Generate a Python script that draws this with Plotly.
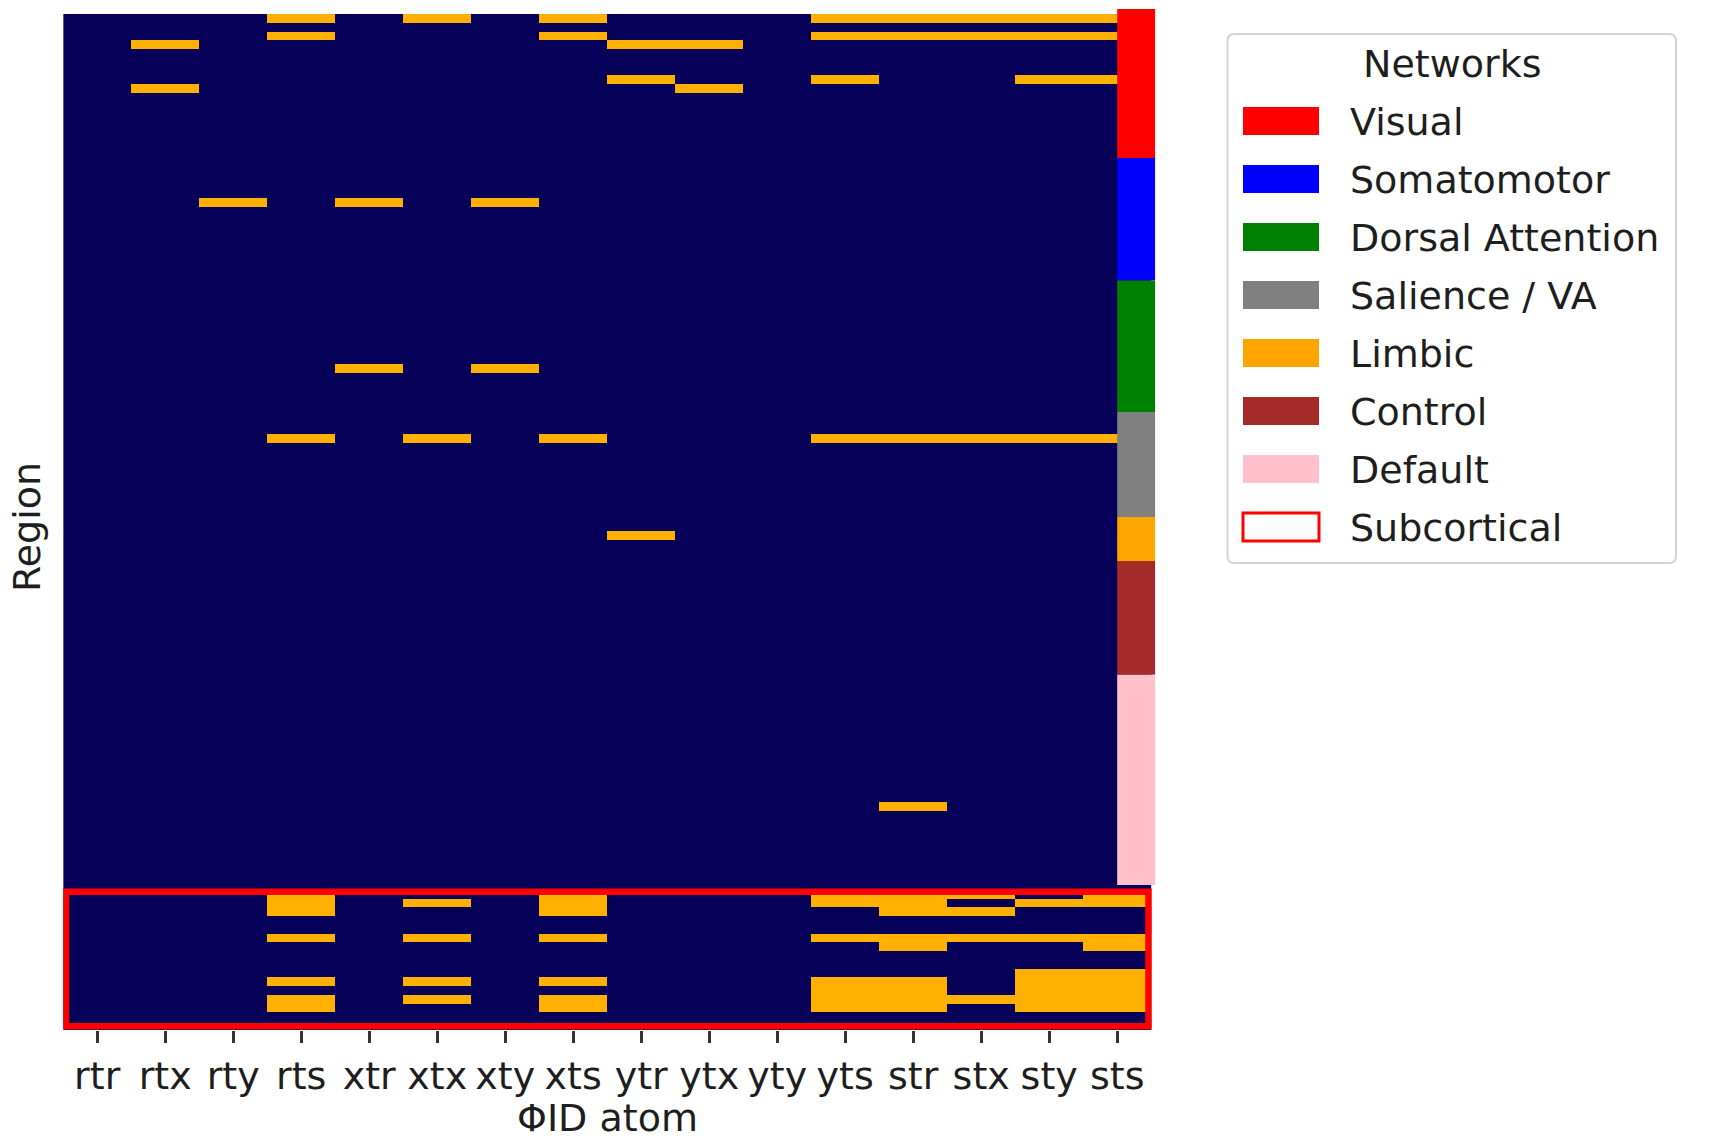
import numpy as np
import plotly.graph_objects as go

# ---------------------------------------------------------------- data
atoms = ["rtr", "rtx", "rty", "rts", "xtr", "xtx", "xty", "xts",
         "ytr", "ytx", "yty", "yts", "str", "stx", "sty", "sts"]

networks = ["Visual", "Somatomotor", "Dorsal Attention", "Salience / VA",
            "Limbic", "Control", "Default"]
network_sizes = [17, 14, 15, 12, 5, 13, 24]
network_colors = ["#FF0000", "#0000FF", "#008000", "#808080",
                  "#FFA500", "#A52A2A", "#FFC0CB"]
subcortical_label = "Subcortical"
n_subcortical = 16

# regions (row index: 100 cortical parcels, then subcortical) with a
# significant effect, and the ΦID atoms where it is significant
hit_rows = [0, 2, 3, 7, 8, 21, 40, 48, 59, 90,
            100, 101, 102, 105, 106, 109, 110, 111, 112, 113]
hit_atoms = [
    "rts xtx xts yts str stx sty sts",
    "rts xts yts str stx sty sts",
    "rtx ytr ytx",
    "ytr yts sty sts",
    "rtx ytx",
    "rty xtr xty",
    "xtr xty",
    "rts xtx xts yts str stx sty sts",
    "ytr",
    "str",
    "rts xts yts str stx sts",
    "rts xtx xts yts str sty sts",
    "rts xts str stx",
    "rts xtx xts yts str stx sty sts",
    "str sts",
    "sty sts",
    "rts xtx xts yts str sty sts",
    "yts str sty sts",
    "rts xtx xts yts str stx sty sts",
    "rts xts yts str sty sts",
]

# ---------------------------------------------------------------- matrix
n_cortical = sum(network_sizes)
n_rows = n_cortical + n_subcortical
z = np.zeros((n_rows, len(atoms)))
for r, names in zip(hit_rows, hit_atoms):
    for a in names.split():
        z[r, atoms.index(a)] = 1

# ---------------------------------------------------------------- style
W, H = 1712, 1143
FONT = "DejaVu Sans"
FS = 38
TXT = "#1e1e1e"
NAVY = "#060058"
HIT = "#FFB000"


def px(x):
    return x / W


def py(y):
    return 1 - y / H


fig = go.Figure()
fig.add_trace(go.Heatmap(
    z=z,
    x=list(range(len(atoms))),
    y=list(range(n_rows)),
    colorscale=[[0, NAVY], [1, HIT]],
    zmin=0, zmax=1,
    showscale=False,
    hoverinfo="skip",
))

shapes = []

# network colour strip along the right edge of the cortical block
bar_shift = 0.57
start = 0
for size, color in zip(network_sizes, network_colors):
    shapes.append(dict(
        type="rect", xref="x", yref="y",
        x0=len(atoms) - 1, x1=len(atoms) - 0.44,
        y0=start - 0.5 - bar_shift, y1=start + size - 0.5 - bar_shift,
        fillcolor=color, line=dict(width=0), layer="above",
    ))
    start += size

# outline around the subcortical block
shapes.append(dict(
    type="rect", xref="x", yref="y",
    x0=-0.46, x1=len(atoms) - 0.54,
    y0=n_cortical - 0.31, y1=n_rows - 0.96,
    line=dict(color="#FF0000", width=6.5), fillcolor="rgba(0,0,0,0)",
    layer="above",
))

# ---------------------------------------------------------------- legend
L, R, T, B = 1227.5, 1676, 34, 563
rad = 7
rx, ry = rad / W, rad / H
x0, x1, y0, y1 = px(L), px(R), py(T), py(B)
path = (f"M {x0+rx},{y0} L {x1-rx},{y0} Q {x1},{y0} {x1},{y0-ry} "
        f"L {x1},{y1+ry} Q {x1},{y1} {x1-rx},{y1} L {x0+rx},{y1} "
        f"Q {x0},{y1} {x0},{y1+ry} L {x0},{y0-ry} Q {x0},{y0} {x0+rx},{y0} Z")
shapes.append(dict(type="path", xref="paper", yref="paper", path=path,
                   fillcolor="white", line=dict(color="#d4d4d4", width=2)))

annotations = [dict(
    x=px((L + R) / 2), y=py(64), xref="paper", yref="paper",
    text="Networks", showarrow=False, xanchor="center", yanchor="middle",
    font=dict(family=FONT, size=FS, color=TXT),
)]

entry_labels = networks + [subcortical_label]
entry_fill = network_colors + ["white"]
for k, (lab, col) in enumerate(zip(entry_labels, entry_fill)):
    yc = 121 + 58 * k
    edge = dict(color="#FF0000", width=3) if lab == subcortical_label else dict(width=0)
    shapes.append(dict(
        type="rect", xref="paper", yref="paper",
        x0=px(1243), x1=px(1319), y0=py(yc - 14), y1=py(yc + 14),
        fillcolor=col, line=edge,
    ))
    annotations.append(dict(
        x=px(1348), y=py(yc + 1), xref="paper", yref="paper", text=lab,
        showarrow=False, xanchor="left", yanchor="middle",
        font=dict(family=FONT, size=FS, color=TXT),
    ))

# axis titles
annotations.append(dict(
    x=px(27), y=py(527), xref="paper", yref="paper", text="Region",
    textangle=-90, showarrow=False, xanchor="center", yanchor="middle",
    font=dict(family=FONT, size=FS, color=TXT),
))
annotations.append(dict(
    x=px(607), y=py(1118), xref="paper", yref="paper", text="ΦID atom",
    showarrow=False, xanchor="center", yanchor="middle",
    font=dict(family=FONT, size=FS, color=TXT),
))

# ---------------------------------------------------------------- layout
row_px = 8.76
col_px = 68.0
top_px = 14 - 0.6 * row_px
bottom_px = 14 + n_rows * row_px
left_px = 63.2
right_px = left_px + (len(atoms) + 0.06) * col_px

fig.update_layout(
    width=W, height=H,
    margin=dict(l=0, r=0, t=0, b=0),
    paper_bgcolor="white", plot_bgcolor="white",
    font=dict(family=FONT, size=FS, color=TXT),
    shapes=shapes, annotations=annotations,
    showlegend=False,
    xaxis=dict(
        domain=[px(left_px), px(right_px)],
        range=[-0.5, len(atoms) - 0.44],
        tickmode="array", tickvals=list(range(len(atoms))), ticktext=atoms,
        ticks="outside", ticklen=12, tickwidth=2.5, tickcolor="#333333",
        showgrid=False, zeroline=False, showline=False,
        tickfont=dict(family=FONT, size=FS, color=TXT),
        ticklabelstandoff=0,
    ),
    yaxis=dict(
        domain=[py(bottom_px), py(top_px)],
        range=[n_rows - 0.5, -1.1],
        showticklabels=False, ticks="",
        showgrid=False, zeroline=False, showline=False,
    ),
)

fig.write_html("out.html")
